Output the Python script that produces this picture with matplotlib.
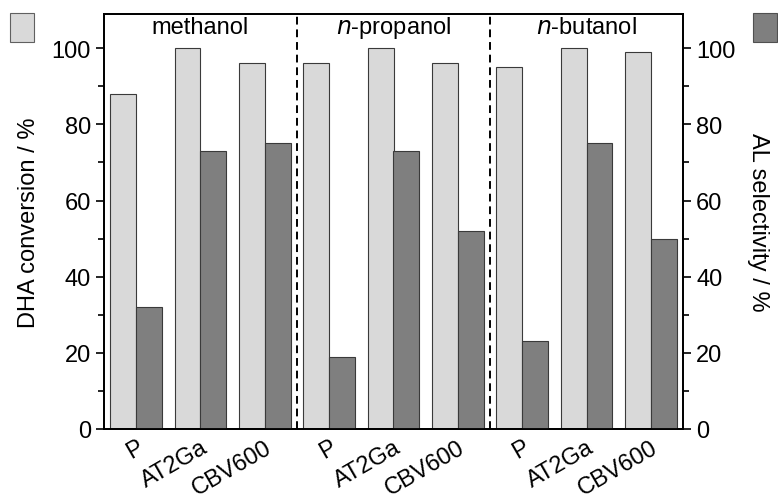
import numpy as np
import matplotlib.pyplot as plt
from matplotlib.ticker import MultipleLocator
from matplotlib.patches import Rectangle

plt.rcParams['font.family'] = ['Liberation Sans', 'DejaVu Sans']
plt.rcParams['font.size'] = 17

solvents = ['methanol', '$n$-propanol', '$n$-butanol']
catalysts = ['P', 'AT2Ga', 'CBV600']
conversion = [88, 100, 96, 96, 100, 96, 95, 100, 99]
selectivity = [32, 73, 75, 19, 73, 52, 23, 75, 50]

light = '#d9d9d9'
dark = '#7f7f7f'
edge = '#3a3a3a'

fig = plt.figure(figsize=(7.78, 5.02), dpi=100)
ax = fig.add_axes([104/778, 72/502, 579/778, 415/502])
ax2 = ax.twinx()

x = np.arange(len(conversion))
w = 0.4
ax.bar(x - w/2, conversion, width=w, color=light, edgecolor=edge, linewidth=0.8, zorder=2)
ax2.bar(x + w/2, selectivity, width=w, color=dark, edgecolor=edge, linewidth=0.8, zorder=2)

for a in (ax, ax2):
    a.set_ylim(0, 109)
    a.yaxis.set_major_locator(MultipleLocator(20))
    a.yaxis.set_minor_locator(MultipleLocator(10))
    a.tick_params(axis='y', which='major', direction='out', length=6, width=1.2)
    a.tick_params(axis='y', which='minor', direction='out', length=4, width=1.2)
    for s in a.spines.values():
        s.set_linewidth(1.3)
ax.set_xlim(-0.5, 8.5)

ax.set_xticks(x)
ax.set_xticklabels(catalysts * 3, rotation=30, ha='right', rotation_mode='anchor')
ax.tick_params(axis='x', length=0, pad=5)

ax.set_ylabel('DHA conversion / %', labelpad=8)
ax2.set_ylabel('AL selectivity / %', rotation=270, labelpad=24)

for b in (2.5, 5.5):
    ax.axvline(b, color='black', linestyle=(0, (4, 2.5)), linewidth=1.4, zorder=3)

for i, name in enumerate(solvents):
    ax.text(3*i + 1, 105.5, name, ha='center', va='center')

# legend squares at the corners
fig.patches.append(Rectangle((10/778, 1 - 43/502), 24/778, 29/502, transform=fig.transFigure,
                             facecolor=light, edgecolor='#606060', linewidth=0.8))
fig.patches.append(Rectangle((753/778, 1 - 43/502), 24/778, 29/502, transform=fig.transFigure,
                             facecolor=dark, edgecolor='#505050', linewidth=0.8))

fig.savefig('out.png', dpi=100)
